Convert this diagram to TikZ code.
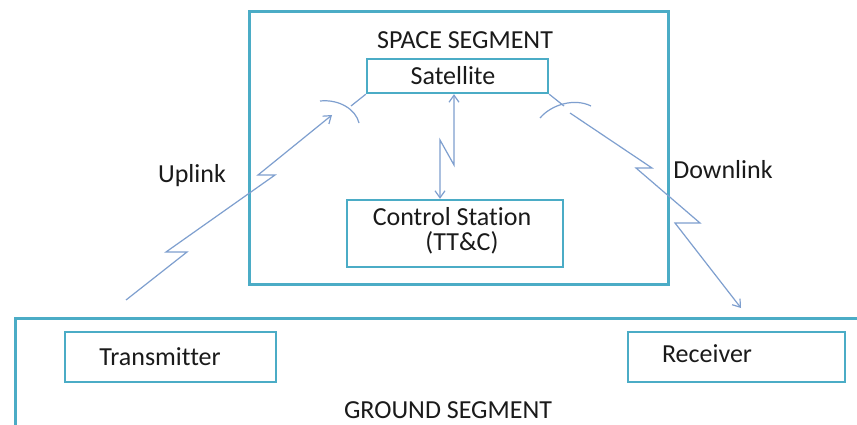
\documentclass[tikz,border=0pt]{standalone}
\usepackage{fontspec}
\setmainfont{Carlito}[Ligatures=CommonOff]
\usetikzlibrary{arrows.meta}
\definecolor{boxteal}{HTML}{4BACC6}
\definecolor{linkblue}{HTML}{7E9FCF}
\definecolor{ink}{HTML}{1A1A1A}
\begin{document}
\begin{tikzpicture}[x=1pt,y=-1pt,
  segbox/.style={draw=boxteal,line width=2.6pt,inner sep=0pt,anchor=north west},
  unitbox/.style={draw=boxteal,line width=2.4pt,inner sep=0pt},
  lbl/.style={font=\fontsize{26}{29}\selectfont,text=ink,inner sep=0pt},
  link/.style={draw=linkblue,line width=1.2pt,line join=miter},
  tip/.style={-{Straight Barb[length=7pt,width=10pt]}},
  twotip/.style={{Straight Barb[length=7pt,width=10pt]}-{Straight Barb[length=7pt,width=10pt]}}
]
\useasboundingbox (0,0) rectangle (857,425);
\fill[white] (0,0) rectangle (857,425);
\clip (0,0) rectangle (857,425);

% segment frames
\node[segbox,minimum width=419pt,minimum height=273pt] (space) at (248,10) {};
\node[segbox,minimum width=900pt,minimum height=200pt] (ground) at (14,317) {};

% units
\node[unitbox,minimum width=181pt,minimum height=34pt] (sat) at (457.5,76) {};
\node[unitbox,minimum width=216pt,minimum height=67pt] (ctrl) at (455,233.5) {};
\node[unitbox,minimum width=211pt,minimum height=50pt] (tx) at (170.5,357) {};
\node[unitbox,minimum width=217pt,minimum height=50pt] (rx) at (736.5,357) {};

% labels
\node[lbl] (spacelbl) at (465,40) {SPACE SEGMENT};
\node[lbl] (satlbl) at (453,76) {Satellite};
\node[lbl] (ctrllbl) at (452,217) {Control Station};
\node[lbl] (ttclbl) at (462,243) {(TT\&C)};
\node[lbl] (txlbl) at (160,357) {Transmitter};
\node[lbl] (rxlbl) at (707,354) {Receiver};
\node[lbl] (groundlbl) at (448,410) {GROUND SEGMENT};
\node[lbl] (uplbl) at (192,176) {Uplink};
\node[lbl] (downlbl) at (723,170) {Downlink};

% antenna feeds and dishes
\coordinate (ldish) at (351,106);
\coordinate (rdish) at (564,106);
\draw[link] (sat.south west) -- (ldish);
\draw[link] (sat.south east) -- (rdish);
\draw[link] (320,101) .. controls (340,99) and (356,110) .. (359,123);
\draw[link] (540,118) .. controls (552,104) and (575,98) .. (591,106);

% uplink, zigzag
\coordinate (upstart) at (126,300);
\coordinate (upend) at (332,115);
\draw[link,tip] (upstart) -- (187,252) -- (166,252) -- (275,175) -- (258,175) -- (upend);

% downlink, zigzag
\coordinate (downstart) at (570,113);
\coordinate (downend) at (741,308);
\draw[link,tip] (downstart) -- (652,168) -- (636,168) -- (700,223) -- (675,223) -- (downend);

% telemetry, tracking and command link
\draw[link,twotip] (sat.south -| 454,0) -- (454,165) -- (440,140) -- (ctrl.north -| 440,0);
\end{tikzpicture}
\end{document}
